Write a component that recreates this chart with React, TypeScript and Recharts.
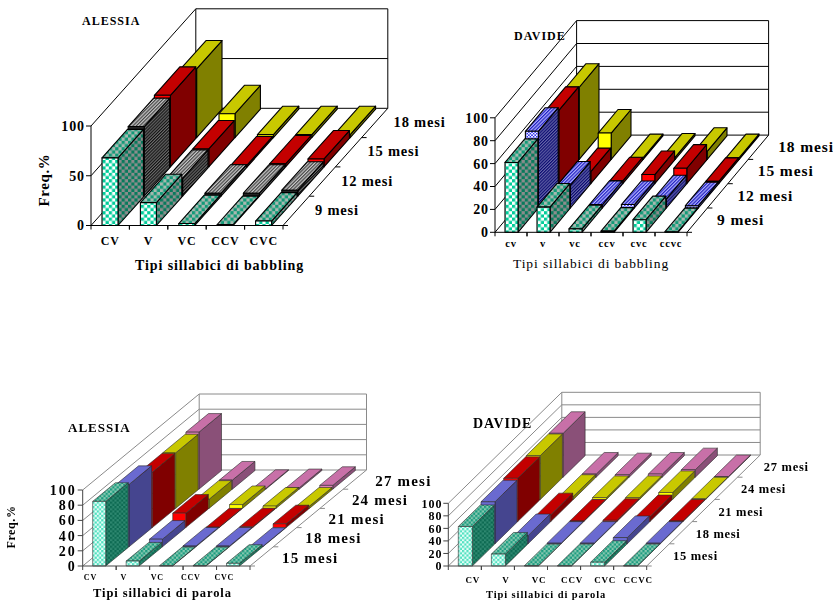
import React from 'react';
import { BarChart, Bar, XAxis, YAxis } from 'recharts';

const SERIF = '"Liberation Serif", serif';

// Babbling syllable types, Alessia
const alessiaBabblingTypes = ['CV', 'V', 'VC', 'CCV', 'CVC'];
const alessiaBabblingMonths = ['9 mesi', '12 mesi', '15 mesi', '18 mesi'];
const alessiaBabbling9 = [68, 23, 2, 1, 4.5];
const alessiaBabbling12 = [70, 18, 3, 3, 6];
const alessiaBabbling15 = [72, 18, 2, 3, 8];
const alessiaBabbling18 = [69, 24, 3, 3, 3];

// Babbling syllable types, Davide
const davideBabblingTypes = ['cv', 'v', 'vc', 'ccv', 'cvc', 'ccvc'];
const davideBabblingMonths = ['9 mesi', '12 mesi', '15 mesi', '18 mesi'];
const davideBabbling9 = [61, 22, 3, 1, 11, 0.5];
const davideBabbling12 = [67, 20, 3, 3, 8, 2];
const davideBabbling15 = [64, 10.5, 2.5, 8, 13.5, 2];
const davideBabbling18 = [63, 23, 1.5, 2, 7, 1.5];

// Word syllable types, Alessia
const alessiaWordTypes = ['CV', 'V', 'VC', 'CCV', 'CVC'];
const alessiaWordMonths = ['15 mesi', '18 mesi', '21 mesi', '24 mesi', '27 mesi'];
const alessiaWord15 = [85, 6.5, 0.5, 0.5, 3.5];
const alessiaWord18 = [82, 10, 1, 1, 0.5];
const alessiaWord21 = [73, 19, 0.5, 1, 5];
const alessiaWord24 = [73, 12, 5, 3, 3];
const alessiaWord27 = [75, 12, 1, 2, 5];

// Word syllable types, Davide
const davideWordTypes = ['CV', 'V', 'VC', 'CCV', 'CVC', 'CCVC'];
const davideWordMonths = ['15 mesi', '18 mesi', '21 mesi', '24 mesi', '27 mesi'];
const davideWord15 = [63, 19, 0.5, 0.5, 6, 0.5];
const davideWord18 = [67, 13, 1, 1, 10, 1];
const davideWord21 = [69, 11, 1, 2, 8, 1];
const davideWord24 = [70, 5, 3, 3, 11, 1];
const davideWord27 = [70, 5, 4, 5, 12, 1];

type Look = { front: string; top: string; side: string };

const teal: Look = { front: 'url(#tealFront)', top: 'url(#tealTop)', side: 'url(#tealSide)' };
const tealSoft: Look = { front: 'url(#softFront)', top: 'url(#softTop)', side: 'url(#softSide)' };
const gray: Look = { front: '#222', top: 'url(#grayTop)', side: 'url(#graySide)' };
const blue: Look = { front: 'url(#blueFront)', top: 'url(#blueTop)', side: 'url(#blueSide)' };
const blueFlat: Look = { front: '#6a6ad0', top: '#6a6ad0', side: '#45458f' };
const red: Look = { front: '#ff0000', top: '#c40000', side: '#800000' };
const yellow: Look = { front: '#ffff00', top: '#c8c800', side: '#808000' };
const pink: Look = { front: '#e080b8', top: '#c870a8', side: '#8a5078' };

type PanelProps = {
  title: string;
  titleAt: [number, number];
  titleSize: number;
  categories: string[];
  months: string[];
  series: number[][];
  looks: Look[];
  ticks: number[];
  ox: number;
  oy: number;
  w: number;
  h: number;
  dx: number;
  dy: number;
  barSize: number;
  tickSize: number;
  tickSpacing: number;
  catSize: number;
  catY: number;
  catNudge: number;
  rowSize: number;
  rowSpacing: number;
  rowAt: [number, number];
  xTitle: string;
  xTitleAt: [number, number];
  xTitleSize: number;
  xTitleWeight: string;
  yTitle?: { at: [number, number]; size: number };
  lineColor: string;
  axisColor: string;
  edge: string;
  edgeWidth: number;
  soft?: boolean;
};

const panels: PanelProps[] = [
  {
    title: 'ALESSIA', titleAt: [82, 25], titleSize: 12,
    categories: alessiaBabblingTypes, months: alessiaBabblingMonths,
    series: [alessiaBabbling9, alessiaBabbling12, alessiaBabbling15, alessiaBabbling18],
    looks: [teal, gray, red, yellow], ticks: [0, 50, 100],
    ox: 91, oy: 225.5, w: 192, h: 99.5, dx: 26.2, dy: -29.3, barSize: 16,
    tickSize: 14, tickSpacing: 0.9, catSize: 12, catY: 245, catNudge: 0,
    rowSize: 14.5, rowSpacing: 0.8, rowAt: [315, 215],
    xTitle: 'Tipi sillabici di babbling', xTitleAt: [135, 270], xTitleSize: 14, xTitleWeight: 'bold',
    yTitle: { at: [49, 180], size: 15 },
    lineColor: '#000', axisColor: '#000', edge: '#000', edgeWidth: 1.1,
  },
  {
    title: 'DAVIDE', titleAt: [514, 40], titleSize: 12,
    categories: davideBabblingTypes, months: davideBabblingMonths,
    series: [davideBabbling9, davideBabbling12, davideBabbling15, davideBabbling18],
    looks: [teal, blue, red, yellow], ticks: [0, 20, 40, 60, 80, 100],
    ox: 495, oy: 232.3, w: 192, h: 114.5, dx: 20.4, dy: -24.3, barSize: 13,
    tickSize: 14, tickSpacing: 0.9, catSize: 10.5, catY: 247, catNudge: 0,
    rowSize: 15.5, rowSpacing: 0.9, rowAt: [717, 225],
    xTitle: 'Tipi sillabici di babbling', xTitleAt: [513, 268], xTitleSize: 13.5, xTitleWeight: 'normal',
    lineColor: '#000', axisColor: '#000', edge: '#000', edgeWidth: 1.1,
  },
  {
    title: 'ALESSIA', titleAt: [68, 432], titleSize: 13,
    categories: alessiaWordTypes, months: alessiaWordMonths,
    series: [alessiaWord15, alessiaWord18, alessiaWord21, alessiaWord24, alessiaWord27],
    looks: [tealSoft, blueFlat, red, yellow, pink], ticks: [0, 20, 40, 60, 80, 100],
    ox: 82.7, oy: 566, w: 167.3, h: 76, dx: 23.3, dy: -19.2, barSize: 13,
    tickSize: 14, tickSpacing: 2, catSize: 8, catY: 580, catNudge: -9,
    rowSize: 15, rowSpacing: 1.2, rowAt: [282, 562.5],
    xTitle: 'Tipi sillabici di parola', xTitleAt: [93, 597], xTitleSize: 12.5, xTitleWeight: 'bold',
    yTitle: { at: [15, 527], size: 12 },
    lineColor: '#8a8a8a', axisColor: '#444', edge: '#2a2a2a', edgeWidth: 0.6, soft: true,
  },
  {
    title: 'DAVIDE', titleAt: [473, 428], titleSize: 14,
    categories: davideWordTypes, months: davideWordMonths,
    series: [davideWord15, davideWord18, davideWord21, davideWord24, davideWord27],
    looks: [tealSoft, blueFlat, red, yellow, pink], ticks: [0, 20, 40, 60, 80, 100],
    ox: 448.3, oy: 566, w: 198.4, h: 62.7, dx: 22.7, dy: -22.2, barSize: 14,
    tickSize: 12, tickSpacing: 0.9, catSize: 9, catY: 583, catNudge: 8,
    rowSize: 12.5, rowSpacing: 0.7, rowAt: [673, 560],
    xTitle: 'Tipi sillabici di parola', xTitleAt: [486, 598], xTitleSize: 10.5, xTitleWeight: 'bold',
    lineColor: '#8a8a8a', axisColor: '#444', edge: '#2a2a2a', edgeWidth: 0.6, soft: true,
  },
];

// Checker tile shared by the pattern fills
const Checker = ({ id, size, a, b }: { id: string; size: number; a: string; b: string }) => (
  <pattern id={id} width={size * 2} height={size * 2} patternUnits="userSpaceOnUse">
    <rect width={size * 2} height={size * 2} fill={a} />
    <rect width={size} height={size} fill={b} />
    <rect x={size} y={size} width={size} height={size} fill={b} />
  </pattern>
);

const Hatch = ({ id, size, a, b }: { id: string; size: number; a: string; b: string }) => (
  <pattern id={id} width={size * 2} height={size * 2} patternUnits="userSpaceOnUse" patternTransform="rotate(45)">
    <rect width={size * 2} height={size * 2} fill={a} />
    <rect width={size} height={size * 2} fill={b} />
  </pattern>
);

const Patterns = () => (
  <svg width={0} height={0} style={{ position: 'absolute' }}>
    <defs>
      <Checker id="tealFront" size={3.2} a="#ffffff" b="#00cc99" />
      <Checker id="tealTop" size={3.2} a="#a8b8b0" b="#129a78" />
      <Checker id="tealSide" size={3.2} a="#8c8c8c" b="#087a5c" />
      <Checker id="softFront" size={2.2} a="#e6fff8" b="#50e0c0" />
      <Checker id="softTop" size={2.2} a="#88c8b0" b="#1c9c80" />
      <Checker id="softSide" size={2.2} a="#2e8870" b="#0d6a52" />
      <Hatch id="grayTop" size={1.2} a="#c8c8c8" b="#444444" />
      <Hatch id="graySide" size={1.1} a="#6c6c6c" b="#101010" />
      <Checker id="blueFront" size={1.6} a="#ffffff" b="#3333ee" />
      <Hatch id="blueTop" size={1.2} a="#b0b0ff" b="#2020c0" />
      <Hatch id="blueSide" size={1.1} a="#6666a8" b="#0a0a70" />
    </defs>
  </svg>
);

// One bar drawn as a box pushed back along the depth axis by its month row
const Prism = (props: any) => {
  const { x, y, width, height, row, p, look } = props;
  const bx = p.dx * 0.97;
  const by = p.dy * 0.97;
  const left = x + row * p.dx;
  const right = left + width;
  const top = y + row * p.dy;
  const bottom = top + height;
  const line = { stroke: p.edge, strokeWidth: p.edgeWidth, strokeLinejoin: 'round' as const };
  return (
    <g>
      <polygon
        points={`${right},${top} ${right + bx},${top + by} ${right + bx},${bottom + by} ${right},${bottom}`}
        fill={look.side}
        {...line}
      />
      <polygon
        points={`${left},${top} ${left + bx},${top + by} ${right + bx},${top + by} ${right},${top}`}
        fill={look.top}
        {...line}
      />
      <rect x={left} y={top} width={width} height={height} fill={look.front} {...line} />
    </g>
  );
};

// Left wall, back wall and floor behind the bars
const Walls = ({ p }: { p: PanelProps }) => {
  const rows = p.months.length;
  const ddx = p.dx * rows;
  const ddy = p.dy * rows;
  const valueY = (v: number) => p.oy - (v / 100) * p.h;
  const backX = p.ox + ddx;
  const edgeX = p.ox + p.w;
  const s = { stroke: p.lineColor, strokeWidth: 1, fill: 'none' };
  return (
    <g>
      {p.ticks.map((t) => (
        <g key={t}>
          <line x1={p.ox} y1={valueY(t)} x2={backX} y2={valueY(t) + ddy} {...s} />
          <line x1={backX} y1={valueY(t) + ddy} x2={backX + p.w} y2={valueY(t) + ddy} {...s} />
        </g>
      ))}
      <line x1={backX} y1={valueY(0) + ddy} x2={backX} y2={valueY(100) + ddy} {...s} />
      <line x1={backX + p.w} y1={valueY(0) + ddy} x2={backX + p.w} y2={valueY(100) + ddy} {...s} />
      <line x1={edgeX} y1={p.oy} x2={edgeX + ddx} y2={p.oy + ddy} {...s} />
      {p.months.map((m, i) => (
        <line
          key={m}
          x1={edgeX + p.dx * i}
          y1={p.oy + p.dy * i}
          x2={edgeX + p.dx * i + 5}
          y2={p.oy + p.dy * i}
          {...s}
        />
      ))}
    </g>
  );
};

const PanelText = ({ p }: { p: PanelProps }) => (
  <g fontFamily={SERIF} fill="#000">
    <text x={p.titleAt[0]} y={p.titleAt[1]} fontSize={p.titleSize} fontWeight="bold" letterSpacing={1}>
      {p.title}
    </text>
    <text
      x={p.xTitleAt[0]}
      y={p.xTitleAt[1]}
      fontSize={p.xTitleSize}
      fontWeight={p.xTitleWeight}
      letterSpacing={0.9}
    >
      {p.xTitle}
    </text>
    {p.yTitle && (
      <text
        transform={`translate(${p.yTitle.at[0]},${p.yTitle.at[1]}) rotate(-90)`}
        textAnchor="middle"
        fontSize={p.yTitle.size}
        fontWeight="bold"
        letterSpacing={0.6}
      >
        Freq.%
      </text>
    )}
    {p.months.map((m, i) => (
      <text
        key={m}
        x={p.rowAt[0] + i * p.dx}
        y={p.rowAt[1] + i * p.dy}
        fontSize={p.rowSize}
        fontWeight="bold"
        letterSpacing={p.rowSpacing}
      >
        {m}
      </text>
    ))}
  </g>
);

const Panel = ({ p }: { p: PanelProps }) => {
  const table = p.categories.map((name, i) => {
    const row: Record<string, string | number> = { name };
    p.series.forEach((values, s) => {
      row[`s${s}`] = values[i];
    });
    return row;
  });
  const band = p.w / p.categories.length;

  const CategoryTick = ({ x, payload }: any) => (
    <g>
      <line x1={x - band / 2} y1={p.oy} x2={x - band / 2} y2={p.oy + 4} stroke={p.axisColor} />
      <line x1={x + band / 2} y1={p.oy} x2={x + band / 2} y2={p.oy + 4} stroke={p.axisColor} />
      <text
        x={x + p.catNudge}
        y={p.catY}
        textAnchor="middle"
        fontFamily={SERIF}
        fontSize={p.catSize}
        fontWeight="bold"
        letterSpacing={0.8}
        fill="#000"
      >
        {payload.value}
      </text>
    </g>
  );

  return (
    <div style={{ position: 'absolute', left: 0, top: 0, filter: p.soft ? 'blur(0.45px)' : undefined }}>
      <BarChart
        width={833}
        height={602}
        data={table}
        barSize={p.barSize}
        barGap={-p.barSize}
        margin={{ left: p.ox - 40, right: 833 - p.ox - p.w, top: p.oy - p.h, bottom: 602 - p.oy - 30 }}
      >
        <Walls p={p} />
        <XAxis
          dataKey="name"
          height={30}
          interval={0}
          padding={{ left: 0, right: 0 }}
          tickLine={false}
          axisLine={{ stroke: p.axisColor }}
          tick={<CategoryTick />}
        />
        <YAxis
          type="number"
          width={40}
          domain={[0, 100]}
          ticks={p.ticks}
          interval={0}
          tickSize={5}
          tickMargin={1}
          axisLine={{ stroke: p.axisColor }}
          tickLine={{ stroke: p.axisColor }}
          tick={{ fontFamily: SERIF, fontSize: p.tickSize, fontWeight: 'bold', fill: '#000', letterSpacing: p.tickSpacing }}
        />
        {/* back rows first, so nearer months cover them */}
        {p.series
          .map((_, s) => s)
          .reverse()
          .map((s) => (
            <Bar
              key={s}
              dataKey={`s${s}`}
              isAnimationActive={false}
              activeBar={false}
              shape={(props: any) => <Prism {...props} row={s} p={p} look={p.looks[s]} />}
            />
          ))}
        <PanelText p={p} />
      </BarChart>
    </div>
  );
};

export default function App() {
  return (
    <div style={{ position: 'absolute', left: 0, top: 0, width: 833, height: 602, background: '#fff', overflow: 'hidden' }}>
      <Patterns />
      {panels.map((p) => (
        <Panel key={`${p.title}-${p.xTitle}`} p={p} />
      ))}
    </div>
  );
}
